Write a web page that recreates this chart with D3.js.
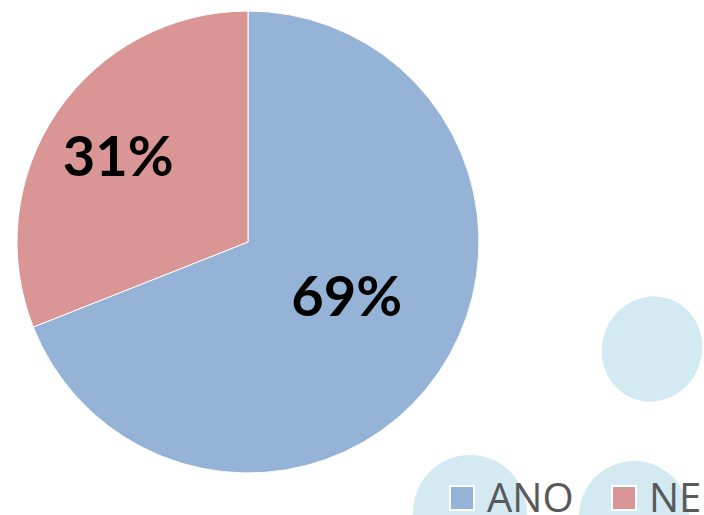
<!DOCTYPE html>
<html><head><meta charset="utf-8">
<script src="https://cdn.jsdelivr.net/npm/d3@7"></script>
<style>html,body{margin:0;padding:0;background:#fff;overflow:hidden}</style>
</head><body>
<svg id="c" width="704" height="515"></svg>
<script>
const categories = ["ANO", "NE"];
const values = [69, 31];
const labels = ["69%", "31%"];
const colors = ["#95B3D7", "#D99694"];

const svg = d3.select("#c");

// decorative background bubbles
const deco = svg.append("g");
deco.append("ellipse").attr("cx", 652).attr("cy", 349).attr("rx", 50).attr("ry", 53)
  .attr("transform", "rotate(20,652,349)").attr("fill", "#D3EAF3");
deco.append("circle").attr("cx", 470).attr("cy", 512).attr("r", 57).attr("fill", "#D3EAF3");
deco.append("circle").attr("cx", 634).attr("cy", 516).attr("r", 55).attr("fill", "#D3EAF3");

const cx = 248, cy = 242, R = 231;
const pie = d3.pie().sort(null).value(d => d)(values);
const arc = d3.arc().innerRadius(0).outerRadius(R);
const g = svg.append("g").attr("transform", `translate(${cx},${cy})`);
g.selectAll("path").data(pie).join("path")
  .attr("d", arc).attr("fill", (d, i) => colors[i])
  .attr("stroke", "#fff").attr("stroke-width", 1);

const labelR = [112, 152];
const labelShift = [[6, -9], [-4, -1]];
g.selectAll("text").data(pie).join("text")
  .attr("transform", (d, i) => {
    const c = d3.arc().innerRadius(labelR[i]).outerRadius(labelR[i]).centroid(d);
    return `translate(${c[0] + labelShift[i][0]},${c[1] + labelShift[i][1]})`;
  })
  .attr("text-anchor", "middle").attr("dy", "0.36em")
  .attr("font-family", "Lato, 'Open Sans', sans-serif").attr("font-weight", "bold")
  .attr("font-size", 56).attr("fill", "#000")
  .text((d, i) => labels[i]);

// legend
const leg = svg.append("g");
const legX = [449, 611];
categories.forEach((c, i) => {
  leg.append("rect").attr("x", legX[i]).attr("y", 485).attr("width", 26).attr("height", 26)
    .attr("fill", "#fff");
  leg.append("rect").attr("x", legX[i] + 2).attr("y", 487).attr("width", 22).attr("height", 22)
    .attr("fill", colors[i]);
  leg.append("text").attr("x", legX[i] + 38).attr("y", 512)
    .attr("font-family", "'Open Sans', sans-serif").attr("font-size", 40)
    .attr("fill", "#595959").text(c);
});
</script>
</body></html>
